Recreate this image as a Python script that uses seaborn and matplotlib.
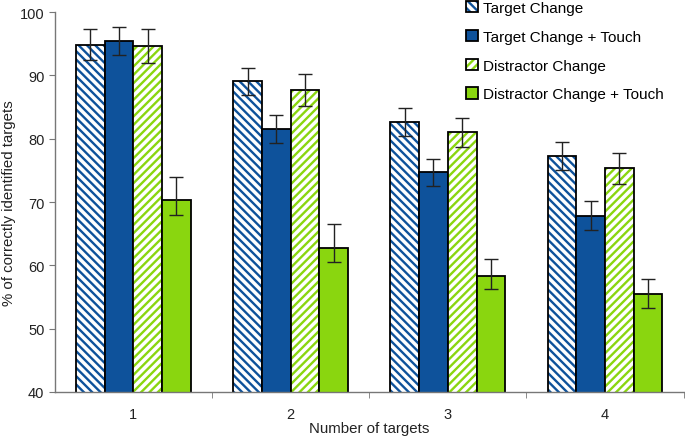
import numpy as np
import pandas as pd
import seaborn as sns
import matplotlib.pyplot as plt
from matplotlib.patches import Patch
from matplotlib.colors import to_rgba

# data
n_targets = ['1', '2', '3', '4']
conditions = ['Target Change', 'Target Change + Touch',
              'Distractor Change', 'Distractor Change + Touch']

target_change = [94.8, 89.1, 82.7, 77.3]
target_change_touch = [95.4, 81.6, 74.7, 67.8]
distractor_change = [94.6, 87.7, 81.0, 75.3]
distractor_change_touch = [70.3, 62.7, 58.3, 55.5]

# error bar ends (upper / lower)
tc_hi = [97.3, 91.2, 84.8, 79.5]
tc_lo = [92.4, 86.9, 80.5, 75.1]
tct_hi = [97.6, 83.8, 76.8, 70.2]
tct_lo = [93.3, 79.4, 72.6, 65.6]
dc_hi = [97.3, 90.2, 83.2, 77.7]
dc_lo = [91.9, 85.2, 78.7, 72.8]
dct_hi = [74.0, 66.5, 61.0, 57.9]
dct_lo = [67.9, 60.6, 56.2, 53.3]

blue = '#0E529B'
green = '#8AD60F'
colors = [blue, blue, green, green]
hatches = ['\\' * 4, '', '/' * 4, '']

plt.rcParams['font.family'] = ['Liberation Sans', 'DejaVu Sans']
plt.rcParams['hatch.linewidth'] = 1.7

values = [target_change, target_change_touch, distractor_change, distractor_change_touch]
highs = [tc_hi, tct_hi, dc_hi, dct_hi]
lows = [tc_lo, tct_lo, dc_lo, dct_lo]

rows = []
for cond, vals in zip(conditions, values):
    for n, v in zip(n_targets, vals):
        rows.append({'n': n, 'cond': cond, 'value': v})
df = pd.DataFrame(rows)

fig = plt.figure(figsize=(6.85, 4.39), dpi=100)
ax = fig.add_axes([0.080, 0.105, 0.918, 0.865])

sns.barplot(data=df, x='n', y='value', hue='cond', hue_order=conditions,
            order=n_targets, errorbar=None, width=0.73, ax=ax,
            palette=colors, legend=False, saturation=1)

# style bars: hatched ones get white fill with colored stripes
bar_groups = list(ax.containers)
for i, cont in enumerate(bar_groups):
    for j, p in enumerate(cont.patches):
        p.set_edgecolor('black')
        p.set_linewidth(1.3)
        if hatches[i]:
            p.set_facecolor('white')
            p.set_hatch(hatches[i])
            p._hatch_color = to_rgba(colors[i])
        x = p.get_x() + p.get_width() / 2
        v = values[i][j]
        ax.errorbar(x, v, yerr=[[v - lows[i][j]], [highs[i][j] - v]],
                    fmt='none', ecolor='#222222', elinewidth=1.0,
                    capsize=5, capthick=1.0, zorder=5)

ax.set_ylim(40, 100)
ax.set_yticks(np.arange(40, 101, 10))
ax.set_xlim(-0.5, 3.5)
ax.set_xticks([0.5, 1.5, 2.5, 3.5], minor=True)
ax.tick_params(axis='x', which='major', length=0, pad=11, labelsize=10.5, labelcolor='#222222')
ax.tick_params(axis='x', which='minor', length=4, color='#777777', direction='out')
ax.tick_params(axis='y', length=4, color='#777777', labelsize=10.5, labelcolor='#222222')
for s in ['top', 'right']:
    ax.spines[s].set_visible(False)
for s in ['left', 'bottom']:
    ax.spines[s].set_color('#777777')
    ax.spines[s].set_linewidth(1.0)

ax.set_xlabel('Number of targets', fontsize=10.8, color='#222222', labelpad=0)
ax.set_ylabel('% of correctly identified targets', fontsize=10.8, color='#222222', labelpad=3)

handles = []
for c, h in zip(colors, hatches):
    hp = Patch(facecolor='white' if h else c, edgecolor='black', hatch=h, linewidth=1.3)
    if h:
        hp._hatch_color = to_rgba(c)
    handles.append(hp)
fig.legend(handles, conditions, loc='upper left', bbox_to_anchor=(0.665, 1.02),
           frameon=False, fontsize=11, handlelength=0.75, handleheight=0.75,
           handletextpad=0.35, labelspacing=0.97, borderpad=0.2)

fig.savefig('out.png', dpi=100)
